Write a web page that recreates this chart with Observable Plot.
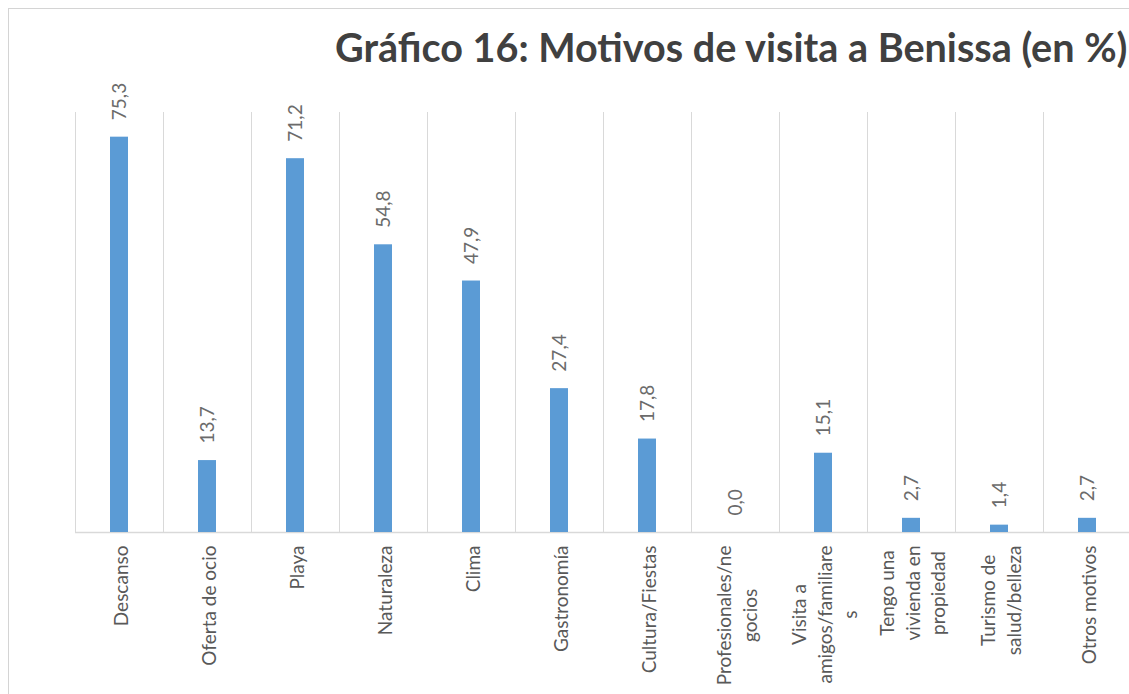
<!DOCTYPE html>
<html>
<head>
<meta charset="utf-8">
<script src="https://cdn.jsdelivr.net/npm/d3@7"></script>
<script src="https://cdn.jsdelivr.net/npm/@observablehq/plot@0.6"></script>
<style>
  html, body { margin: 0; padding: 0; background: #fff; overflow: hidden; }
  #wrap { position: relative; width: 1129px; height: 694px; overflow: hidden; }
  #frame { position: absolute; left: 8px; top: 8px; width: 1200px; height: 800px;
           border-top: 1px solid #d4d4d4; border-left: 1px solid #d4d4d4; }
  #title { position: absolute; left: 335px; top: 23px; white-space: nowrap;
           font-family: Lato, "Open Sans", sans-serif; font-weight: 700; font-size: 39.6px;
           color: #404040; }
  #chart { position: absolute; left: 0; top: 0; }
</style>
</head>
<body>
<div id="wrap">
  <div id="frame"></div>
  <div id="chart"></div>
  <div id="title">Gráfico 16: Motivos de visita a Benissa (en %)</div>
</div>
<script>
const categories = [
  "Descanso", "Oferta de ocio", "Playa", "Naturaleza", "Clima", "Gastronomía",
  "Cultura/Fiestas", "Profesionales/negocios", "Visita a amigos/familiares",
  "Tengo una vivienda en propiedad", "Turismo de salud/belleza", "Otros motivos"
];
const tickLabels = [
  "Descanso", "Oferta de ocio", "Playa", "Naturaleza", "Clima", "Gastronomía",
  "Cultura/Fiestas", "Profesionales/ne\ngocios", "Visita a\namigos/familiare\ns",
  "Tengo una\nvivienda en\npropiedad", "Turismo de\nsalud/belleza", "Otros motivos"
];
const values = [75.3, 13.7, 71.2, 54.8, 47.9, 27.4, 17.8, 0.0, 15.1, 2.7, 1.4, 2.7];

const data = categories.map((c, i) => ({cat: c, label: tickLabels[i], value: values[i]}));
const fmt = v => v.toFixed(1).replace(".", ",");

const X0 = 75, X1 = 1131;
const step = (X1 - X0) / categories.length;

const chart = Plot.plot({
  width: 1129,
  height: 694,
  marginLeft: 75, marginRight: 0, marginTop: 0, marginBottom: 0,
  style: {fontFamily: "Lato, 'Open Sans', sans-serif", background: "transparent"},
  x: {domain: categories, range: [X0, X1], paddingInner: 0.8, paddingOuter: 0.4, axis: null},
  y: {domain: [0, 80], range: [532, 112], axis: null},
  marks: [
    Plot.ruleX(categories, {x: d => d, dx: -step / 2, y1: 0, y2: 80, stroke: "#d9d9d9", strokeWidth: 1}),
    Plot.ruleY([0], {stroke: "#d9d9d9", strokeWidth: 1.5}),
    Plot.barY(data, {x: "cat", y: "value", fill: "#5b9bd5"}),
    Plot.text(data, {x: "cat", y: "value", text: d => fmt(d.value), rotate: -90,
      textAnchor: "start", lineAnchor: "middle", dy: -17, fontSize: 19, fill: "#6b6b6b"}),
    Plot.text(data, {x: "cat", y: 0, text: "label", rotate: -90, textAnchor: "end",
      lineAnchor: "middle", lineHeight: 1.35, dy: 13, fontSize: 19, fill: "#595959",
      className: "catlabels"})
  ]
});
document.getElementById("chart").appendChild(chart);

// center multi-line category labels on their longest line (as in the original)
chart.querySelectorAll(".catlabels text").forEach(t => {
  const spans = t.querySelectorAll("tspan");
  if (spans.length < 2) return;
  let w = 0;
  spans.forEach(s => { w = Math.max(w, s.getComputedTextLength()); });
  t.setAttribute("text-anchor", "middle");
  spans.forEach(s => s.setAttribute("x", -w / 2));
});
</script>
</body>
</html>
